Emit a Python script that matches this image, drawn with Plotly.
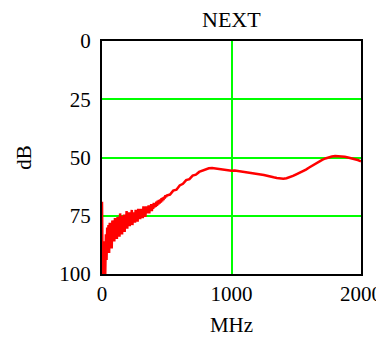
import plotly.graph_objects as go

# Frequency (MHz) and NEXT (dB)
freq_low = [0, 5, 10, 15, 20, 25, 30, 35, 40, 45, 50, 55, 60, 65, 70, 75, 80, 85, 90, 95,
            100, 105, 110, 115, 120, 125, 130, 135, 140, 145, 150, 155, 160, 165, 170, 175,
            180, 185, 190, 195, 200, 205, 210, 215, 220, 225, 230, 235, 240, 245, 250, 255,
            260, 265, 270, 275, 280, 285, 290, 295, 300, 305, 310, 315, 320, 325, 330, 335,
            340, 345, 350, 355, 360, 365, 370, 375, 380, 385, 390, 395, 400, 405, 410, 415,
            420, 425, 430, 435, 440, 445, 450, 455, 460, 465, 470, 475, 480, 485, 490, 495]
db_low = [69, 100, 86, 100, 90, 100, 83, 94, 80, 88, 79, 91, 78, 85, 80, 89, 77, 83, 79, 86,
          76, 82, 78, 85, 75.5, 81, 77, 84, 74, 79.5, 76.5, 83, 75, 78, 74.5, 82,
          74.5, 79, 73, 80.5, 74.5, 77.5, 73.5, 79.5, 74, 77, 72.5, 79, 73.5, 76.5, 74, 78,
          72.5, 76, 73.5, 77.5, 72, 75.5, 73.5, 76.5, 72, 75, 72.5, 76, 71, 74.5, 72.5, 75.5,
          71, 74, 71.5, 73.5, 70.5, 74, 71, 72.5, 70, 73, 70.5, 72, 69.5, 71.5, 69.8, 71.2,
          69, 70.8, 68.5, 70.2, 68.2, 69.8, 68, 69.3, 67.5, 68.8, 67.2, 68.3, 66.8, 67.6, 66.2, 67]

freq_high = [500, 525, 550, 575, 600, 625, 650, 675, 700, 725,
             750, 775, 800, 825, 850, 875, 900, 925, 950, 975,
             1000, 1025, 1050, 1075, 1100, 1125, 1150, 1175, 1200, 1225,
             1250, 1275, 1300, 1325, 1350, 1375, 1400, 1425, 1450, 1475,
             1500, 1525, 1550, 1575, 1600, 1625, 1650, 1675, 1700, 1725,
             1750, 1775, 1800, 1825, 1850, 1875, 1900, 1925, 1950, 1975, 2000]
db_high = [66.3, 65.9, 64.2, 63.8, 62.0, 61.3, 59.7, 59.3, 57.8, 57.4,
           56.2, 55.6, 55.0, 54.6, 54.5, 54.7, 55.0, 55.1, 55.4, 55.5,
           55.7, 55.6, 55.8, 55.9, 56.1, 56.2, 56.5, 56.6, 57.0, 57.2,
           57.5, 57.8, 58.3, 58.5, 58.8, 59.0, 59.1, 58.9, 58.5, 57.9,
           57.2, 56.6, 56.0, 55.2, 54.3, 53.4, 52.5, 51.7, 51.0, 50.4,
           49.9, 49.6, 49.4, 49.4, 49.5, 49.7, 50.0, 50.3, 50.7, 51.1, 51.6]

x_ticks = [0, 1000, 2000]
y_ticks = [0, 25, 50, 75, 100]
title_text = "NEXT"

freq = freq_low + freq_high
db = db_low + db_high

fig = go.Figure()
fig.add_trace(go.Scatter(x=freq, y=db, mode="lines",
                         line=dict(color="#ff0000", width=2.5),
                         showlegend=False))

family = "Liberation Serif, Times New Roman, serif"
font = dict(family=family, size=21, color="black")
grid = "#00ff00"

# The page body adds an 8px offset, so the figure is 376x329 placed at (8, 8)
fig.update_layout(
    width=376, height=329,
    margin=dict(l=94, r=23, t=33, b=63, autoexpand=False),
    paper_bgcolor="white", plot_bgcolor="white",
    font=font,
    xaxis=dict(range=[0, 2000], tickvals=x_ticks, ticktext=[str(v) for v in x_ticks],
               showgrid=True, gridcolor=grid, gridwidth=2,
               showline=True, linecolor="black", linewidth=2, mirror=True,
               ticks="", zeroline=False, automargin=False,
               tickfont=font,
               title=dict(text="MHz", standoff=13, font=font)),
    yaxis=dict(range=[100, 0], tickvals=y_ticks, ticktext=[str(v) for v in y_ticks],
               showgrid=True, gridcolor=grid, gridwidth=2,
               showline=True, linecolor="black", linewidth=2, mirror=True,
               ticks="", zeroline=False, automargin=False,
               tickfont=font, ticklabelstandoff=5,
               title=dict(text="dB", standoff=22, font=font)),
)
fig.add_annotation(text=title_text, xref="paper", yref="paper", x=0.5, y=1.0,
                   xanchor="center", yanchor="bottom", yshift=7, showarrow=False,
                   font=dict(family=family, size=22, color="black"))

fig.write_html("out.html")
